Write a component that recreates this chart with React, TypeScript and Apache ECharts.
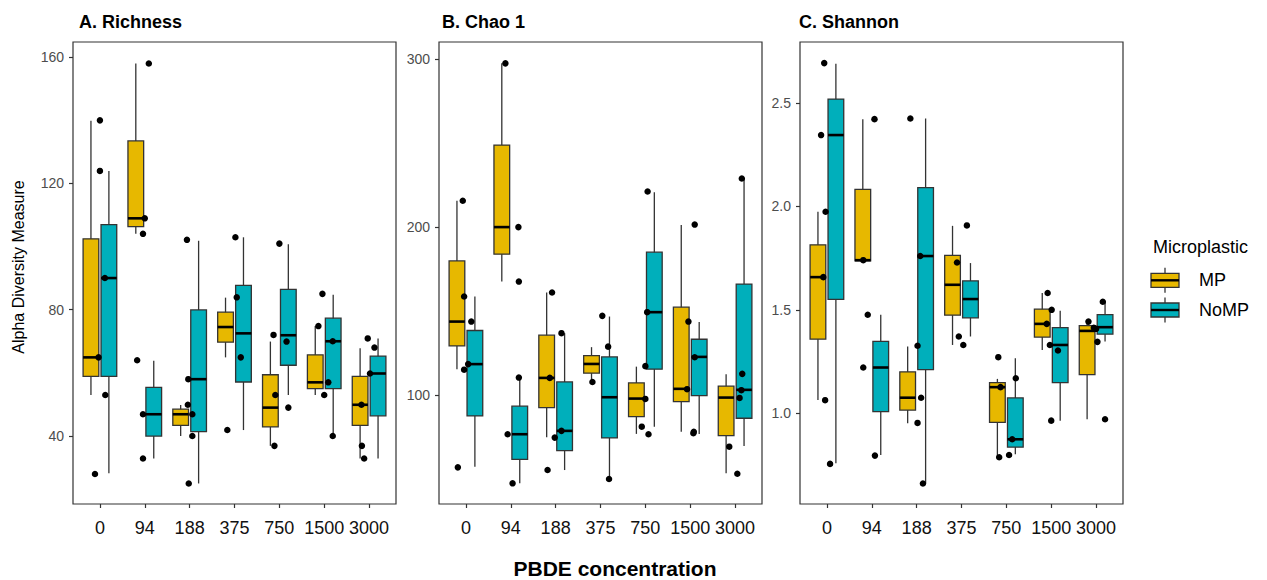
import React, { useEffect, useRef } from "react";
import * as echarts from "echarts";

// ---------- data ----------
const categories = ["0", "94", "188", "375", "750", "1500", "3000"];
const groups = ["MP", "NoMP"];
const colorMP = "#E7B800";
const colorNoMP = "#00AFBB";

// box stats per category: [lower whisker, Q1, median, Q3, upper whisker]
const richMP = [
  [53, 58.9, 64.9, 102.4, 139.8],
  [104, 106.3, 108.9, 133.4, 157.9],
  [40, 43.4, 46.9, 48.5, 49.8],
  [64.9, 69.7, 74.5, 79.2, 83.8],
  [36.9, 42.9, 49, 59.4, 69.9],
  [53, 55, 57, 65.7, 74.8],
  [32.9, 43.4, 49.9, 58.9, 67.8],
];
const richNoMP = [
  [28.2, 58.9, 90, 106.9, 123.9],
  [32.9, 40, 46.9, 55.4, 63.8],
  [25, 41.4, 58, 79.9, 101.8],
  [41.9, 57.1, 72.5, 87.7, 102.9],
  [53, 62.4, 71.9, 86.4, 100.7],
  [40, 55, 70, 77.3, 84.7],
  [32.9, 46.4, 59.8, 65.3, 70.9],
];
const chaoMP = [
  [115.5, 129.3, 143.8, 179.9, 215.7],
  [167.6, 183.9, 200, 248.8, 297.4],
  [75, 92.6, 110.3, 135.7, 161.1],
  [107.9, 113.1, 118.6, 123.6, 128.6],
  [77, 87.3, 98, 107.3, 117],
  [78.3, 96.2, 103.8, 152.4, 201.2],
  [53.6, 76, 98.6, 105.4, 112.5],
];
const chaoNoMP = [
  [57.5, 87.7, 118.5, 138.5, 158.7],
  [47.6, 61.9, 76.8, 93.5, 110.5],
  [55.5, 67, 78.8, 107.9, 136.9],
  [50.2, 74.6, 98.8, 122.8, 146.8],
  [81.3, 115.5, 149.4, 185.1, 220.8],
  [77, 99.8, 122.8, 133.3, 143.5],
  [69.8, 86.3, 103.2, 166.1, 228.9],
];
const shanMP = [
  [1.064, 1.358, 1.658, 1.814, 1.974],
  [1.737, 1.737, 1.74, 2.082, 2.422],
  [0.952, 1.015, 1.075, 1.2, 1.322],
  [1.33, 1.474, 1.621, 1.763, 1.906],
  [0.787, 0.956, 1.126, 1.148, 1.166],
  [1.306, 1.368, 1.432, 1.503, 1.581],
  [0.971, 1.187, 1.398, 1.424, 1.435],
];
const shanNoMP = [
  [0.758, 1.55, 2.345, 2.519, 2.69],
  [0.798, 1.008, 1.221, 1.347, 1.476],
  [0.66, 1.211, 1.76, 2.091, 2.425],
  [1.371, 1.461, 1.552, 1.64, 1.726],
  [0.802, 0.836, 0.874, 1.074, 1.266],
  [0.964, 1.148, 1.33, 1.414, 1.496],
  [1.347, 1.382, 1.416, 1.477, 1.539],
];

// sample points: [category index (1-based), jitter, value]
const richPts = [
  [1, 0, 139.9], [1, 0, 123.9], [1, -0.11, 28], [1, -0.03, 64.9], [1, 0.12, 53], [1, 0.11, 90],
  [2, 0.09, 157.9], [2, 0, 108.9], [2, -0.04, 104], [2, -0.17, 64], [2, -0.04, 32.9], [2, -0.04, 46.9],
  [3, -0.06, 102.1], [3, -0.02, 25], [3, -0.03, 58], [3, -0.04, 49.9], [3, 0.06, 46.9], [3, 0.06, 40],
  [4, 0.02, 102.9], [4, 0.05, 83.9], [4, -0.16, 41.9], [4, 0.14, 64.9],
  [5, 0, 100.9], [5, -0.13, 72], [5, -0.09, 53], [5, -0.11, 36.9], [5, 0.16, 69.9], [5, 0.2, 49],
  [6, -0.04, 85], [6, -0.13, 74.8], [6, 0.09, 57], [6, 0, 53], [6, 0.19, 40], [6, 0.19, 70],
  [7, -0.03, 70.9], [7, 0.12, 68], [7, 0.02, 59.8], [7, -0.17, 49.9], [7, -0.16, 36.9], [7, -0.11, 32.9],
];
const chaoPts = [
  [1, -0.07, 215.7], [1, -0.04, 158.7], [1, 0.12, 143.8], [1, 0.05, 118.5], [1, -0.04, 115.2], [1, -0.18, 57.1],
  [2, -0.12, 297.4], [2, 0.17, 200], [2, 0.18, 167.6], [2, -0.07, 76.8], [2, 0.04, 47.6], [2, 0.18, 110.5],
  [3, -0.08, 161.1], [3, 0.13, 136.9], [3, -0.13, 110.3], [3, -0.02, 74.8], [3, 0.13, 78.8], [3, -0.18, 55.5],
  [4, 0.04, 147.2], [4, 0.17, 128.9], [4, -0.18, 107.9], [4, 0.19, 50.2],
  [5, 0.05, 221.2], [5, 0, 97.8], [5, -0.08, 81.3], [5, 0.07, 76.8], [5, 0, 117.3], [5, 0.04, 149.4],
  [6, 0.1, 201.5], [6, -0.04, 143.8], [6, -0.07, 103.6], [6, 0.07, 77.4], [6, 0.1, 122.6], [6, 0.08, 78.3],
  [7, 0.15, 228.9], [7, 0.16, 112.7], [7, 0.14, 103], [7, 0.1, 98.4], [7, -0.13, 69.4], [7, 0.05, 53.3],
];
const shanPts = [
  [1, -0.06, 2.693], [1, -0.13, 2.345], [1, -0.03, 1.974], [1, -0.08, 1.658], [1, -0.04, 1.063], [1, 0.07, 0.755],
  [2, 0.06, 2.422], [2, -0.19, 1.74], [2, -0.19, 1.221], [2, -0.09, 1.476], [2, 0.07, 0.795],
  [3, -0.14, 2.425], [3, 0.02, 1.326], [3, 0.1, 1.075], [3, 0.02, 0.953], [3, 0.14, 0.66], [3, 0.08, 1.76],
  [4, 0.12, 1.908], [4, -0.1, 1.729], [4, -0.06, 1.371], [4, 0.04, 1.33],
  [5, -0.18, 1.271], [5, -0.13, 1.126], [5, -0.16, 0.787], [5, 0.06, 0.798], [5, 0.13, 0.874], [5, 0.21, 1.169],
  [6, -0.08, 1.581], [6, 0.01, 1.5], [6, -0.1, 1.432], [6, -0.03, 1.33], [6, 0.15, 1.303], [6, 0, 0.964],
  [7, -0.17, 1.443], [7, 0, 1.408], [7, 0.03, 1.345], [7, 0.15, 1.539], [7, 0.2, 0.971], [7, -0.05, 1.413],
];

const richTicks = [40, 80, 120, 160];
const chaoTicks = [100, 200, 300];
const shanTicks = [1.0, 1.5, 2.0, 2.5];
const richRange = [18.5, 164.7];
const chaoRange = [35.3, 310.1];
const shanRange = [0.561, 2.795];

const panelTitles = ["A. Richness", "B. Chao 1", "C. Shannon"];
const yTitle = "Alpha Diversity Measure";
const xTitle = "PBDE concentration";
const legendTitle = "Microplastic";

// ---------- chart ----------
const FONT = "'Liberation Sans', Arial, Helvetica, sans-serif";
const catIdx = categories.map((_, i) => i + 1);
const DODGE = 0.2;
const BOXW = 0.35;

function boxSeries(name: string, stats: number[][], panel: number, offset: number, color: string) {
  return {
    type: "custom",
    name,
    xAxisIndex: panel,
    yAxisIndex: panel,
    z: 2,
    data: stats.map((s, i) => [i + 1, ...s]),
    encode: { x: 0, y: [1, 2, 3, 4, 5] },
    renderItem: (params: any, api: any) => {
      const xc = api.value(0) + offset;
      const lo = api.value(1), q1 = api.value(2), med = api.value(3), q3 = api.value(4), hi = api.value(5);
      const pLo = api.coord([xc, lo]);
      const pHi = api.coord([xc, hi]);
      const pA = api.coord([xc - BOXW / 2, q1]);
      const pB = api.coord([xc + BOXW / 2, q3]);
      const pM = api.coord([xc, med]);
      return {
        type: "group",
        children: [
          {
            type: "line",
            shape: { x1: pHi[0], y1: pHi[1], x2: pLo[0], y2: pLo[1] },
            style: { stroke: "#333333", lineWidth: 1.3 },
          },
          {
            type: "rect",
            shape: { x: pA[0], y: pB[1], width: pB[0] - pA[0], height: pA[1] - pB[1] },
            style: { fill: color, stroke: "#333333", lineWidth: 1.3 },
          },
          {
            type: "line",
            shape: { x1: pA[0], y1: pM[1], x2: pB[0], y2: pM[1] },
            style: { stroke: "#000000", lineWidth: 2.6 },
          },
        ],
      };
    },
  };
}

function pointSeries(pts: number[][], panel: number) {
  return {
    type: "scatter",
    xAxisIndex: panel,
    yAxisIndex: panel,
    z: 5,
    symbolSize: 6.5,
    itemStyle: { color: "#000000", opacity: 1 },
    data: pts.map((p) => [p[0] + p[1], p[2]]),
  };
}

function legendKey(y: number, color: string, label: string) {
  return [
    { type: "line", shape: { x1: 1165, y1: y - 12.5, x2: 1165, y2: y + 12.5 }, style: { stroke: "#333", lineWidth: 1.3 } },
    { type: "rect", shape: { x: 1151, y: y - 7, width: 28, height: 14 }, style: { fill: color, stroke: "#333", lineWidth: 1.3 } },
    { type: "line", shape: { x1: 1151, y1: y, x2: 1179, y2: y }, style: { stroke: "#000", lineWidth: 2.4 } },
    { type: "text", x: 1199, y: y, style: { text: label, font: `18px ${FONT}`, fill: "#000", verticalAlign: "middle", align: "left" } },
  ];
}

export default function App() {
  const ref = useRef<HTMLDivElement>(null);
  useEffect(() => {
    if (!ref.current) return;
    const chart = echarts.init(ref.current, null, { renderer: "svg" });
    const lefts = [73, 439, 800];
    const ranges = [richRange, chaoRange, shanRange];
    const ticks = [richTicks, chaoTicks, shanTicks];
    const option: any = {
      animation: false,
      textStyle: { fontFamily: FONT },
      grid: lefts.map((l) => ({
        left: l,
        top: 42,
        width: 323,
        height: 462,
        show: true,
        borderColor: "#333333",
        borderWidth: 1.2,
        containLabel: false,
      })),
      xAxis: lefts.map((_, i) => ({
        type: "value",
        gridIndex: i,
        min: 0.4,
        max: 7.6,
        axisLine: { show: false },
        splitLine: { show: false },
        axisTick: { show: true, customValues: catIdx, length: 4, lineStyle: { color: "#333", width: 1.2 } },
        axisLabel: {
          customValues: catIdx,
          formatter: (v: number) => categories[Math.round(v) - 1] ?? "",
          fontSize: 18,
          color: "#111",
          margin: 15,
          fontFamily: FONT,
        },
      })),
      yAxis: lefts.map((_, i) => ({
        type: "value",
        gridIndex: i,
        min: ranges[i][0],
        max: ranges[i][1],
        axisLine: { show: false },
        splitLine: { show: false },
        axisTick: { show: true, customValues: ticks[i], length: 4, lineStyle: { color: "#333", width: 1.2 } },
        axisLabel: {
          customValues: ticks[i],
          formatter: (v: number) => (i === 2 ? v.toFixed(1) : String(v)),
          fontSize: 14,
          color: "#4d4d4d",
          margin: 9,
          fontFamily: FONT,
        },
      })),
      series: [
        boxSeries(groups[0], richMP, 0, -DODGE, colorMP),
        boxSeries(groups[1], richNoMP, 0, DODGE, colorNoMP),
        pointSeries(richPts, 0),
        boxSeries(groups[0], chaoMP, 1, -DODGE, colorMP),
        boxSeries(groups[1], chaoNoMP, 1, DODGE, colorNoMP),
        pointSeries(chaoPts, 1),
        boxSeries(groups[0], shanMP, 2, -DODGE, colorMP),
        boxSeries(groups[1], shanNoMP, 2, DODGE, colorNoMP),
        pointSeries(shanPts, 2),
      ],
      graphic: [
        ...panelTitles.map((t, i) => ({
          type: "text",
          x: [79, 442, 799][i],
          y: 21.5,
          style: { text: t, font: `bold 18px ${FONT}`, fill: "#000", verticalAlign: "middle", align: "left" },
        })),
        {
          type: "text",
          x: 18.5,
          y: 267,
          rotation: Math.PI / 2,
          style: { text: yTitle, font: `16px ${FONT}`, fill: "#000", verticalAlign: "middle", align: "center" },
        },
        {
          type: "text",
          x: 615,
          y: 568,
          style: { text: xTitle, font: `bold 21px ${FONT}`, fill: "#000", verticalAlign: "middle", align: "center" },
        },
        {
          type: "text",
          x: 1153,
          y: 247,
          style: { text: legendTitle, font: `18px ${FONT}`, fill: "#000", verticalAlign: "middle", align: "left" },
        },
        ...legendKey(280.3, colorMP, groups[0]),
        ...legendKey(310, colorNoMP, groups[1]),
      ],
    };
    chart.setOption(option);
    return () => chart.dispose();
  }, []);
  return (
    <div
      ref={ref}
      style={{ position: "fixed", left: 0, top: 0, width: 1267, height: 580, background: "#fff" }}
    />
  );
}
